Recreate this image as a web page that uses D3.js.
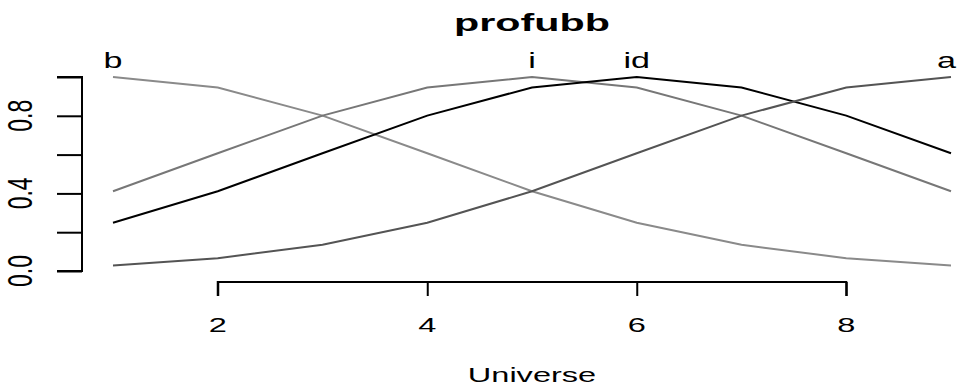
<!DOCTYPE html>
<html>
<head>
<meta charset="utf-8">
<script src="https://cdn.jsdelivr.net/npm/d3@7"></script>
<style>
  html, body { margin: 0; padding: 0; background: #fff; }
  svg { display: block; }
  text { font-family: "Liberation Sans", Arial, sans-serif; fill: #000; }
</style>
</head>
<body>
<svg id="chart" width="958" height="389"></svg>
<script>
// Universe of discourse
const universe = [1, 2, 3, 4, 5, 6, 7, 8, 9];

// Membership grades of each fuzzy set over the universe
const memB  = [1.000, 0.946, 0.801, 0.607, 0.411, 0.249, 0.135, 0.066, 0.028];
const memI  = [0.411, 0.607, 0.801, 0.946, 1.000, 0.946, 0.801, 0.607, 0.411];
const memId = [0.249, 0.411, 0.607, 0.801, 0.946, 1.000, 0.946, 0.801, 0.607];
const memA  = [0.028, 0.066, 0.135, 0.249, 0.411, 0.607, 0.801, 0.946, 1.000];

const setNames  = ["b", "i", "id", "a"];
const setPeaks  = [1, 5, 6, 9];
const setColors = ["#8a8a8a", "#777777", "#000000", "#545454"];

const xTicks = [2, 4, 6, 8];
const yTicks = [0, 0.2, 0.4, 0.6, 0.8, 1.0];
const yTickLabels = ["0.0", "", "0.4", "", "0.8", ""];

const titleText = "profubb";
const xLabelText = "Universe";

const series = [memB, memI, memId, memA];

const W = 958;
const svg = d3.select("#chart");
const sx = 1.55; // horizontal stretch of lettering

const x = d3.scaleLinear().domain([1, 9]).range([113, 951]);
const y = d3.scaleLinear().domain([0, 1]).range([271, 77]);

function stretchedText(g, str, px, py, opts = {}) {
  return g.append("text")
    .attr("transform", `translate(${px},${py}) scale(${opts.sx || sx},1)`)
    .attr("text-anchor", opts.anchor || "middle")
    .attr("font-size", opts.size || 21)
    .attr("font-weight", opts.weight || "normal")
    .text(str);
}

// Membership curves
const line = d3.line().x((d, i) => x(universe[i])).y(d => y(d));
series.forEach((vals, k) => {
  svg.append("path")
    .attr("d", line(vals))
    .attr("fill", "none")
    .attr("stroke", setColors[k])
    .attr("stroke-width", 2);
});

// Set names above each peak, kept inside the drawing area
setNames.forEach((nm, k) => {
  const t = stretchedText(svg, nm, x(setPeaks[k]), 68, { size: 22 });
  const bb = t.node().getBBox();
  const half = bb.width * sx / 2;
  const cx = Math.min(x(setPeaks[k]), W - 2 - half);
  t.attr("transform", `translate(${cx},68) scale(${sx},1)`);
});

// X axis
const xAxis = d3.axisBottom(x).tickValues(xTicks).tickSize(14).tickFormat(d3.format("d"));
const gx = svg.append("g").attr("transform", "translate(0,282)").call(xAxis);
gx.select(".domain").attr("d", `M${x(xTicks[0])},14V0H${x(xTicks[xTicks.length - 1])}V14`).attr("stroke", "#000").attr("stroke-width", 2);
gx.selectAll(".tick line").attr("stroke", "#000").attr("stroke-width", 2);
gx.selectAll(".tick text").remove();
xTicks.forEach(t => stretchedText(gx, String(t), x(t), 50, { size: 21 }));

// Y axis
const yAxis = d3.axisLeft(y).tickValues(yTicks).tickSize(25).tickFormat("");
const gy = svg.append("g").attr("transform", "translate(82,0)").call(yAxis);
gy.select(".domain").attr("d", `M-25,${y(0)}H0V${y(1)}H-25`).attr("stroke", "#000").attr("stroke-width", 2);
gy.selectAll(".tick line").attr("stroke", "#000").attr("stroke-width", 2);
yTicks.forEach((t, i) => {
  if (!yTickLabels[i]) return;
  svg.append("text")
    .attr("transform", `translate(32,${y(t)}) scale(1.5,1) rotate(-90)`)
    .attr("text-anchor", "middle")
    .attr("font-size", 23)
    .text(yTickLabels[i]);
});

// Title and axis label
stretchedText(svg, titleText, x(5), 31, { size: 24, weight: "bold", sx: 1.72 });
stretchedText(svg, xLabelText, x(5), 382, { size: 21 });
</script>
</body>
</html>
